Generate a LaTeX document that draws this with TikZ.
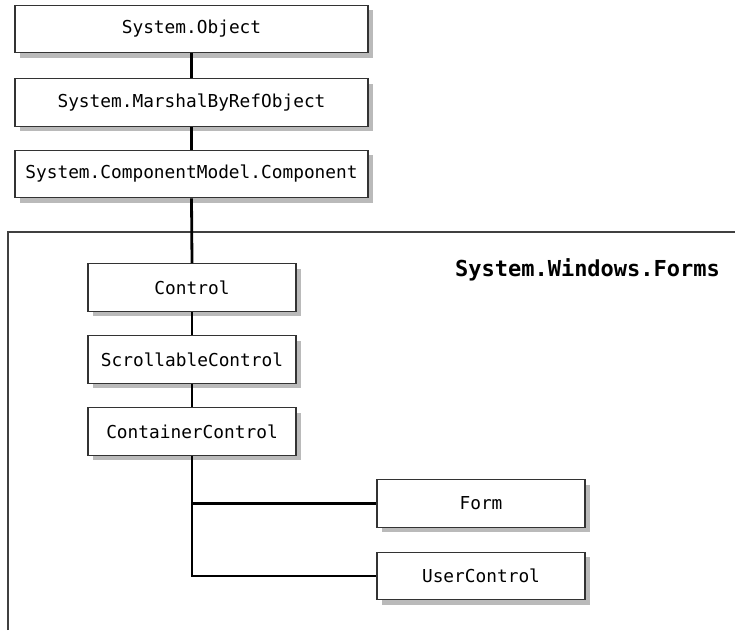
\documentclass[tikz,border=0pt]{standalone}
\usepackage{fontspec}
\setmonofont{DejaVu Sans Mono}
\usetikzlibrary{shadows}
\tikzset{
  classbox/.style={draw=black!80, line width=1.3pt, fill=white, inner sep=0pt,
    font=\ttfamily\fontsize{17.8}{20}\selectfont,
    drop shadow={shadow xshift=5pt, shadow yshift=-5pt, fill=black!27, opacity=1}},
  widebox/.style={classbox, minimum width=353pt, minimum height=47.5pt},
  narrowbox/.style={classbox, minimum width=208pt, minimum height=47.5pt},
  link/.style={line width=2.8pt, black},
  frame/.style={line width=1.3pt, black!75}
}
\begin{document}
\begin{tikzpicture}[x=1pt, y=-1pt]
\useasboundingbox (0,0) rectangle (735,630);
\draw[frame] (8,630) -- (8,232) -- (735,232);
\node[font=\ttfamily\bfseries\fontsize{22}{26}\selectfont] (pkg) at (587.5,270) {System.Windows.Forms};
\node[widebox] (obj) at (191.5,29) {System.Object};
\node[widebox] (mbr) at (191.5,102.5) {System.MarshalByRefObject};
\node[widebox] (comp) at (191.5,174) {System.ComponentModel.Component};
\node[narrowbox] (ctrl) at (192,287.5) {Control};
\node[narrowbox] (scroll) at (192,359.5) {ScrollableControl};
\node[narrowbox] (cont) at (192,431.5) {ContainerControl};
\node[narrowbox] (form) at (481,503.5) {Form};
\node[narrowbox] (user) at (481,576) {UserControl};
\draw[link] (obj.south) -- (mbr.north);
\draw[link] (mbr.south) -- (comp.north);
\draw[link] (comp.south) -- (ctrl.north);
\draw[link] (ctrl.south) -- (scroll.north);
\draw[link] (scroll.south) -- (cont.north);
\draw[link] (cont.south) |- (form.west);
\draw[link] (cont.south) |- (user.west);
\end{tikzpicture}
\end{document}
